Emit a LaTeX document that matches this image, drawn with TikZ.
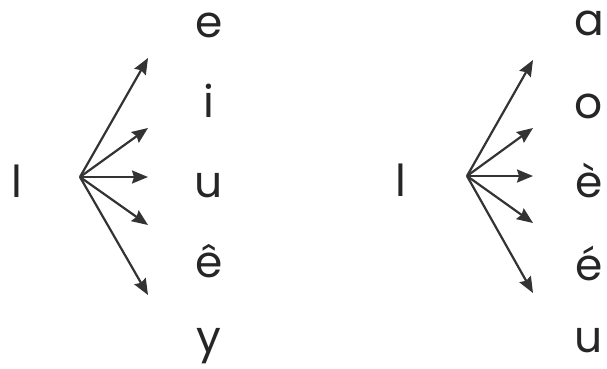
\documentclass[tikz,border=0pt]{standalone}
\usepackage{fontspec}
\setmainfont{Poppins}
\usetikzlibrary{arrows.meta}

\begin{document}
\begin{tikzpicture}[x=1pt, y=-1pt, thick,
  fan/.style={draw=black!80, line width=2.2pt,
    -{Stealth[length=16pt, width=13pt, inset=2pt]}},
  vowel/.style={anchor=base, inner sep=0pt, text=black!85,
    font=\fontsize{44}{44}\selectfont},
]
  \useasboundingbox (0,0) rectangle (607,368);
  % 左边一组：l 和 e, i, u, ê, y
  \node[vowel] (lA) at (17,197) {l};
  \coordinate (OA) at (80,177);
  \foreach \n/\y in {1/58, 2/128, 3/177, 4/225, 5/295} {
    \coordinate (tA\n) at (148,\y);
    \draw[fan] (OA) -- (tA\n);
  }
  \foreach \n/\t/\y in {1/e/37, 2/i/117, 3/u/197, 4/ê/277, 5/y/352}
    \node[vowel] (vA\n) at (209,\y) {\t};
  % 右边一组：l 和 a, o, è, é, u
  \node[vowel] (lB) at (401,196) {l};
  \coordinate (OB) at (467,176);
  \foreach \n/\y in {1/60, 2/128, 3/176, 4/223, 5/293} {
    \coordinate (tB\n) at (533,\y);
    \draw[fan] (OB) -- (tB\n);
  }
  \foreach \n/\t/\y in {1/a/35, 2/o/118, 3/è/197, 4/é/280, 5/u/352}
    \node[vowel] (vB\n) at (589,\y) {\t};
\end{tikzpicture}
\end{document}
